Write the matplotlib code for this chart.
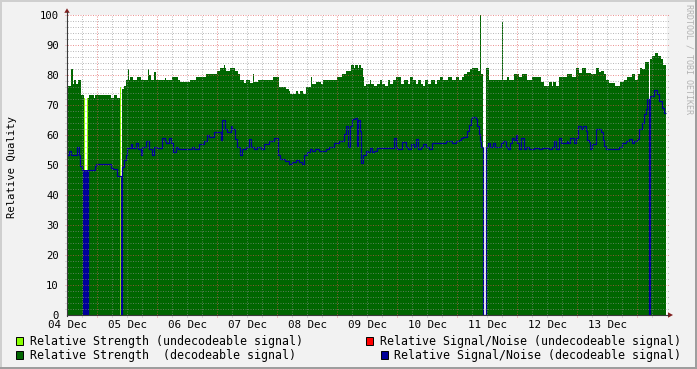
import numpy as np
import matplotlib
matplotlib.use('Agg')
import matplotlib.pyplot as plt
from matplotlib.patches import Rectangle, Polygon
from matplotlib.lines import Line2D

nan = np.nan

# ---- data (time in hours since 04 Dec 00:00) ----
end_hour = 239.6

strength_t = [0, 0.4, 1.6, 2.2, 2.8, 3.6, 4.4, 5.6, 6.8, 8.4, 8.8, 10.8, 11.2, 17.6, 18.8, 20.0,
              21.0, 22.0, 22.8, 23.6, 24.4, 24.8, 25.2, 26.4, 28.0, 29.6, 32.4, 32.8, 33.6, 34.8,
              35.6, 39.2, 39.6, 42.0, 44.4, 45.2, 49.2, 51.6, 55.6, 60.0, 61.2, 62.8, 63.2, 63.6,
              65.2, 67.2, 68.4, 69.2, 70.8, 71.6, 73.2, 74.4, 74.8, 76.4, 82.4, 84.8, 87.6, 88.8,
              89.2, 91.6, 92.4, 93.2, 94.4, 95.6, 97.6, 98.0, 99.6, 101.6, 102.4, 108.0, 110.0,
              111.6, 113.6, 114.8, 115.2, 116.4, 116.8, 117.6, 118.4, 118.8, 119.6, 121.2, 121.6,
              122.8, 124.0, 125.2, 126.0, 127.2, 128.4, 129.2, 130.4, 131.6, 133.6, 134.8, 136.4,
              137.2, 138.4, 139.6, 140.4, 141.6, 142.4, 143.2, 144.4, 145.6, 147.2, 148.0, 149.2,
              150.4, 152.4, 154.0, 155.6, 156.8, 158.0, 158.8, 160.0, 161.2, 162.0, 164.4, 165.2,
              165.6, 166.4, 167.6, 168.8, 174.0, 174.4, 176.0, 176.8, 178.8, 180.8, 182.0, 184.0,
              186.0, 189.6, 190.8, 192.8, 194.0, 194.4, 195.6, 196.8, 200.0, 202.0, 203.6, 204.8,
              206.0, 207.6, 209.6, 211.6, 212.8, 213.6, 214.8, 215.6, 216.8, 219.2, 221.2, 222.8,
              224.0, 226.0, 227.2, 228.4, 229.2, 230.0, 231.2, 232.6, 233.2, 234.0, 235.2, 236.4,
              237.6, 238.4]
strength_v = [77, 76.4, 82, 77, 78.4, 77, 78.4, 73.2, nan, 72.2, 73.2, 72.2, 73.2, 72.2, 73.2, 72.2,
              nan, 75.3, 76.4, 78.4, 82, 78.4, 79.2, 78.4, 79.2, 78.4, 82, 80, 78.4, 81,
              78.4, 79.0, 78.4, 79.2, 78.4, 77.7, 78.4, 79.2, 80.3, 81.2, 82.2, 83.3, 82.2, 81.2,
              82.2, 81.2, 80.3, 78.4, 77.4, 78.4, 77.4, 80.3, 77.7, 78.4, 79.2, 76.1, 75.3, 74.6,
              73.6, 74.6, 73.6, 74.6, 73.6, 76.1, 79.2, 77.0, 77.6, 77.0, 78.4, 79.2, 80.3,
              81.4, 83.3, 82.3, 83.3, 82.3, 83.3, 82.3, 79.2, 76.4, 77.0, 78.4, 77.0,
              76.4, 77.0, 78.4, 77.0, 76.4, 78.4, 77.0, 78.4, 79.2, 77.0, 78.4, 77.0,
              79.2, 78.4, 77.0, 78.4, 77.0, 76.4, 78.4, 77.0, 78.4, 77.0, 78.4, 79.2,
              78.4, 79.2, 78.4, 79.2, 78.4, 79.2, 80.3, 81.0, 82.0, 82.3, 81.3, 100,
              80.3, nan, 82.2, 78.4, 97.6, 78.4, 79.2, 78.4, 80.3, 79.2, 80.3, 78.4,
              79.2, 77.7, 76.4, 77.7, 76.4, 77.7, 76.4, 79.5, 80.3, 79.5, 82.2, 80.8,
              82.2, 80.8, 80.3, 82.2, 81.0, 81.4, 80.3, 78.4, 77.3, 76.4, 77.7, 78.4,
              79.2, 80.3, 78.4, 80.3, 82.5, 82.0, 84.2, nan, 85.3, 86.2, 87.2, 86.2,
              85.3, 83.3]

weak_strength_t = [6.8, 7.2, 8.0, 8.4, 21.3, 21.7]
weak_strength_v = [72.2, nan, 72.2, nan, 76.0]

snr_t = [0, 0.8, 1.6, 4.0, 4.6, 5.2, 5.8, 6.4, 6.6, 6.8, 7.0, 7.2, 7.4, 7.6, 7.8, 8.0, 8.2,
         11.2, 11.6, 17.6, 18.4, 20.0, 21.6, 22.0, 22.8, 23.6, 24.0, 25.6, 26.0, 27.6, 28.4,
         29.6, 30.0, 31.6, 32.8, 34.0, 34.8, 36.0, 38.0, 39.2, 39.6, 40.8, 41.6, 42.4, 43.6,
         44.4, 46.0, 50.0, 50.8, 52.8, 54.8, 56.0, 56.8, 58.8, 61.6, 62.0, 63.2, 64.0, 65.6,
         66.0, 67.2, 68.0, 69.2, 70.0, 71.6, 72.8, 73.6, 74.8, 76.0, 77.6, 78.8, 80.8, 82.8,
         84.4, 85.2, 87.2, 88.8, 90.0, 91.6, 92.8, 94.0, 94.8, 96.0, 97.2, 98.0, 99.2, 100.8,
         103.6, 104.8, 106.8, 108.8, 110.8, 111.6, 112.4, 113.2, 114.0, 115.2, 116.0, 116.4,
         117.2, 117.6, 118.4, 119.6, 120.4, 121.2, 122.0, 122.8, 124.0, 130.8, 131.6, 132.0,
         134.0, 135.6, 136.4, 137.6, 138.8, 139.6, 140.4, 141.6, 142.4, 143.6, 144.8, 146.0,
         151.6, 154.0, 155.6, 156.8, 157.6, 158.4, 160.0, 160.8, 161.6, 162.0, 163.6, 164.0,
         164.8, 165.2, 165.6, 166.4, 167.6, 168.4, 169.2, 170.4, 171.2, 173.6, 174.4, 175.6,
         176.4, 177.2, 178.0, 178.8, 179.6, 180.0, 180.8, 181.6, 182.8, 183.6, 184.8, 186.8,
         188.8, 190.0, 192.8, 194.0, 194.8, 195.6, 196.8, 197.6, 200.0, 200.4, 201.2, 202.8,
         203.6, 204.4, 205.6, 206.4, 207.6, 208.0, 208.8, 209.2, 210.0, 211.6, 212.0, 213.6,
         214.4, 214.8, 215.6, 220.8, 222.0, 223.6, 224.8, 226.0, 226.8, 228.0, 228.8, 230.0,
         230.8, 231.6, 232.0, 232.8, 233.2, 234.8, 236.0, 236.8, 238.0, 238.8]
snr_v = [53.5, 54.8, 53.5, 56.1, 53.5, 49.8, 48.5, 0, 48.5, 0, 48.5, 0, 48.5, 0, 48.5, 0, 48.5,
         49.8, 50.2, 49.0, 48.8, 46.3, 0, 49.4, 51.8, 53.5, 55.7, 56.9, 55.7, 57.4, 55.2,
         53.5, 56.1, 58.0, 55.2, 53.5, 56.1, 55.7, 59.1, 58.0, 57.2, 59.1, 57.2, 54.3, 56.1,
         55.4, 55.2, 56.1, 55.4, 56.9, 58.0, 59.9, 59.5, 61.0, 58.4, 65.0, 62.0, 61.0, 63.0,
         61.9, 58.8, 56.1, 53.5, 55.4, 56.1, 58.8, 56.1, 55.2, 56.1, 55.4, 56.9, 58.0, 59.1,
         53.5, 52.1, 51.3, 50.2, 51.0, 51.8, 51.0, 50.2, 53.5, 54.3, 55.2, 54.6, 55.2, 54.8,
         55.4, 56.1, 57.4, 58.0, 60.2, 63.0, 56.1, 63.0, 65.2, 65.8, 56.2, 65.0,
         61.5, 50.7, 53.5, 54.8, 54.3, 55.7, 54.3, 54.8, 55.7, 59.1, 56.1, 55.4,
         57.7, 56.1, 55.2, 56.9, 56.1, 58.8, 55.2, 56.1, 56.9, 56.1, 55.2, 57.2,
         58.0, 57.2, 58.0, 58.4, 59.1, 59.5, 61.3, 63.5, 65.2, 66.1, 65.2, 63.0,
         60.2, 58.0, 56.1, 0, 56.1, 57.2, 56.1, 57.2, 56.1, 57.2, 58.0, 56.1,
         55.2, 57.2, 59.1, 58.4, 59.9, 57.2, 55.2, 59.1, 55.2, 56.1, 55.2, 55.7,
         55.2, 55.7, 55.2, 56.1, 58.0, 55.2, 59.1, 57.2, 58.0, 57.2, 59.1, 57.2,
         59.1, 63.0, 61.9, 63.0, 61.3, 58.4, 57.7, 55.2, 56.9, 61.9, 62.1, 61.0,
         58.4, 56.5, 55.2, 56.1, 57.2, 58.0, 58.8, 57.2, 58.0, 58.8, 61.9, 64.1,
         66.9, 68.6, 72.1, 0, 73.0, 75.0, 73.6, 71.3, 69.1, 67.5]

day_labels = ['04 Dec', '05 Dec', '06 Dec', '07 Dec', '08 Dec', '09 Dec',
              '10 Dec', '11 Dec', '12 Dec', '13 Dec']
y_ticks = list(range(0, 101, 10))

legend_left = ['Relative Strength (undecodeable signal)', 'Relative Strength  (decodeable signal)']
legend_right = ['Relative Signal/Noise (undecodeable signal)', 'Relative Signal/Noise (decodeable signal)']

# ---- styling ----
W, H = 697, 369
C_BACK = '#F2F2F2'
C_DGREEN = '#006600'
C_LGREEN = '#88FF00'
C_BLUE = '#000099'
C_RED = '#FF0000'
C_GRID = '#8F8F8F'
C_MGRID = '#DE4F4F'
C_ARROW = '#801F1F'
C_AXIS = '#3A3A3A'
MONO = 'DejaVu Sans Mono'

fig = plt.figure(figsize=(W / 100, H / 100), dpi=100)
fig.patch.set_facecolor(C_BACK)

L, T, R, B = 67, 15, 667, 315
ax = fig.add_axes([L / W, (H - B) / H, (R - L) / W, (B - T) / H])
ax.set_facecolor('white')
ax.set_xlim(0, 240)
ax.set_ylim(0, 100)
for s in ax.spines.values():
    s.set_visible(False)

ax.stairs(strength_v, strength_t + [end_hour], fill=True, baseline=0,
          color=C_DGREEN, linewidth=0, zorder=2)
ax.stairs(weak_strength_v, weak_strength_t, fill=True, baseline=0,
          color=C_LGREEN, linewidth=0, zorder=2.1)
ax.stairs(snr_v, snr_t + [end_hour], fill=False, baseline=None,
          color=C_BLUE, linewidth=0.9, zorder=3)

# grid
dash = (0, (1, 1.5))
ext_x = 0.8   # 2 px in hours
ext_y = 0.67  # 2 px in value units
minor_y = [v for v in range(2, 100, 2) if v % 10]
major_y = [v for v in range(10, 101, 10)]
minor_x = [h for h in range(6, 240, 6) if h % 24 != 12]
major_x = [h for h in range(12, 240, 24)]
ax.hlines(minor_y, -ext_x, 240 + ext_x, colors=C_GRID, linestyles=dash, linewidth=0.72,
          alpha=0.6, zorder=5, clip_on=False)
ax.hlines(major_y, -ext_x, 240 + ext_x, colors=C_MGRID, linestyles=dash, linewidth=0.72,
          alpha=0.6, zorder=5, clip_on=False)
ax.vlines(minor_x, -ext_y, 100, colors=C_GRID, linestyles=dash, linewidth=0.72,
          alpha=0.6, zorder=5, clip_on=False)
ax.vlines(major_x, -ext_y, 100, colors=C_MGRID, linestyles=dash, linewidth=0.72,
          alpha=0.6, zorder=5, clip_on=False)

ax.set_xticks([24 * i for i in range(len(day_labels))])
ax.set_xticklabels(day_labels, fontfamily=MONO, fontsize=7.8)
ax.set_yticks(y_ticks)
ax.set_yticklabels([str(v) for v in y_ticks], fontfamily=MONO, fontsize=7.6)
ax.tick_params(axis='x', length=0, pad=3.8)
ax.tick_params(axis='y', length=0, pad=5.8)

# overlay in pixel coordinates
ov = fig.add_axes([0, 0, 1, 1], zorder=10)
ov.set_xlim(0, W)
ov.set_ylim(H, 0)
ov.axis('off')
ov.patch.set_visible(False)

# 3D frame
ov.add_patch(Rectangle((0, 0), W, 2, color='#CFCFCF', lw=0))
ov.add_patch(Rectangle((0, 0), 2, H, color='#CFCFCF', lw=0))
ov.add_patch(Rectangle((0, H - 2), W, 2, color='#9E9E9E', lw=0))
ov.add_patch(Rectangle((W - 2, 0), 2, H, color='#9E9E9E', lw=0))

# axes lines and arrows
ov.add_line(Line2D([L, L], [B + 0.5, 12], color=C_AXIS, lw=0.8))
ov.add_line(Line2D([L - 0.5, 668], [B, B], color=C_AXIS, lw=0.8))
ov.add_patch(Polygon([(64.3, 12.8), (69.7, 12.8), (67, 8.3)], closed=True, color=C_ARROW, lw=0))
ov.add_patch(Polygon([(668, 312.3), (668, 317.7), (673, 315)], closed=True, color=C_ARROW, lw=0))

# y label and watermark
ov.text(12, 167, 'Relative Quality', rotation=90, ha='center', va='center',
        fontfamily=MONO, fontsize=7.6, color='black')
ov.text(688.5, 4.5, 'RRDTOOL / TOBI OETIKER', rotation=270, ha='center', va='top',
        fontfamily=MONO, fontsize=6.0, color='#B3B3B3')

# legend
rows_y = [341, 355]
left_cols = [C_LGREEN, C_DGREEN]
right_cols = [C_RED, C_BLUE]
right_box_x = [365, 380]
for i in range(2):
    y = rows_y[i]
    ov.add_patch(Rectangle((15.5, y - 4), 7.5, 7.5, facecolor=left_cols[i], edgecolor='black', lw=0.7))
    ov.text(30.5, y, legend_left[i], ha='left', va='center', fontfamily=MONO, fontsize=8.4)
    ov.add_patch(Rectangle((right_box_x[i] + 0.5, y - 4), 7.5, 7.5, facecolor=right_cols[i],
                           edgecolor='black', lw=0.7))
    ov.text(680.5, y, legend_right[i], ha='right', va='center', fontfamily=MONO, fontsize=8.4)

fig.savefig('out.png', dpi=100, facecolor=fig.get_facecolor())
